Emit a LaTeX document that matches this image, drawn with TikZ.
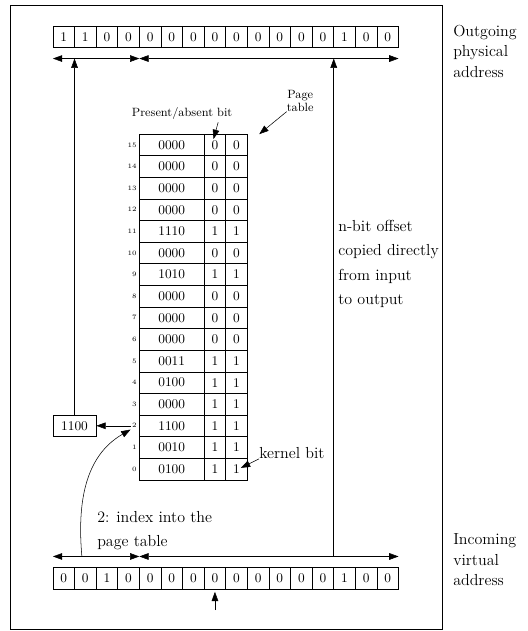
\documentclass[tikz,border=0pt]{standalone}
\usepackage{tikz}
\usetikzlibrary{arrows.meta,positioning,calc}

\begin{document}
\begin{tikzpicture}[x=0.57cm,y=0.57cm,
    >={Triangle[length=7pt,width=5pt]},
    bitcell/.style={draw,minimum width=0.57cm,minimum height=0.57cm,inner sep=0pt},
    framecell/.style={draw,minimum width=1.71cm,minimum height=0.57cm,inner sep=0pt},
    rowidx/.style={font=\tiny,anchor=east,inner sep=1pt},
    sidelabel/.style={font={\large\setlength{\baselineskip}{15.5pt}},align=left,anchor=west,inner sep=0pt},
    notelabel/.style={font={\large\setlength{\baselineskip}{18.3pt}},align=left,anchor=west,inner sep=0pt}]
  \useasboundingbox (0,0) rectangle (24.44,29.21);
  % Outer frame
  \draw (0.46,0.09) rectangle (20.46,28.98);

  % Outgoing physical address
  \foreach \b [count=\i from 0] in {1,1,0,0,0,0,0,0,0,0,0,0,0,1,0,0}{
    \node[bitcell] (o\i) at (2.95+\i,27.5) {\b};
  }
  \coordinate (ol) at (2.45,26.5);
  \coordinate (om) at (6.45,26.5);
  \coordinate (or) at (18.45,26.5);
  \draw[<->] (ol) -- (om);
  \draw[<->] (om) -- (or);
  \node[sidelabel] (outlabel) at (20.97,26.83) {Outgoing\\physical\\address};

  % Incoming virtual address
  \foreach \b [count=\i from 0] in {0,0,1,0,0,0,0,0,0,0,0,0,0,1,0,0}{
    \node[bitcell] (v\i) at (2.95+\i,2.45) {\b};
  }
  \coordinate (vl) at (2.45,3.45);
  \coordinate (vm) at (6.45,3.45);
  \coordinate (vr) at (18.45,3.45);
  \draw[<->] (vl) -- (vm);
  \draw[<->] (vm) -- (vr);
  \node[sidelabel] (inlabel) at (20.97,3.29) {Incoming\\virtual\\address};
  \coordinate (vptr) at (9.95,0.97);
  \draw[->,shorten >=2pt] (vptr) -- (v7);

  % Page table
  \foreach \v/\p/\k [count=\i from 0] in {0100/1/1,0010/1/1,1100/1/1,0000/1/1,
      0100/1/1,0011/1/1,0000/0/0,0000/0/0,0000/0/0,1010/1/1,0000/0/0,1110/1/1,
      0000/0/0,0000/0/0,0000/0/0,0000/0/0}{
    \node[framecell] (f\i) at (7.95,7.5+\i) {\v};
    \node[bitcell] (p\i) at (9.95,7.5+\i) {\p};
    \node[bitcell] (k\i) at (10.95,7.5+\i) {\k};
    \node[rowidx] (r\i) at (6.4,7.5+\i) {\i};
  }

  % Labels on the table
  \node[font=\small] (present) at (8.43,23.94) {Present/absent bit};
  \coordinate (pa) at (10.1,23.55);
  \draw[->,shorten >=-4pt] (pa) -- (p15.north);
  \node[align=center,inner sep=0pt,
        font={\small\setlength{\baselineskip}{9.5pt}}] (ptlabel) at (13.9,24.54) {Page\\table};
  \coordinate (ptend) at (12.0,23.0);
  \draw[->] (ptlabel.south west) -- (ptend);
  \node[font=\large,anchor=west,inner sep=0pt] (kernel) at (11.99,8.24) {kernel bit};
  \draw[->] (kernel.south west) -- ($(k0.center)+(0.2,0.05)$);

  % Frame number out of the table
  \node[draw,minimum width=1.14cm,minimum height=0.57cm] (frame) at (3.45,9.5) {1100};
  \draw[->] (r2) -- (frame);
  \draw[->] (frame.north) -- (frame.north |- ol);

  % Index into the table
  \coordinate (ci) at (3.79,3.45);
  \draw[->] (ci) to[out=95,in=-150] (r2.south west);
  \node[notelabel] (idxlabel) at (4.49,4.65) {2: index into the\\page table};

  % Offset copied straight through
  \coordinate (vo) at (15.45,3.45);
  \coordinate (oo) at (15.45,26.5);
  \draw[->] (vo) -- (oo);
  \node[notelabel] (offlabel) at (15.65,17) {n-bit offset\\copied directly\\from input\\to output};
\end{tikzpicture}
\end{document}
